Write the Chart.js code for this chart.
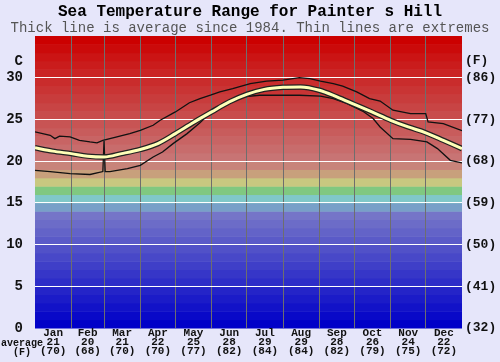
<!DOCTYPE html>
<html><head><meta charset="utf-8">
<script src="https://cdn.jsdelivr.net/npm/chart.js@4.4.0/dist/chart.umd.min.js"></script>
<style>html,body{margin:0;padding:0;background:#e6e6fa;}canvas{display:block;}</style>
</head><body>
<canvas id="c" width="500" height="362"></canvas>
<script>
const months = ['Jan','Feb','Mar','Apr','May','Jun','Jul','Aug','Sep','Oct','Nov','Dec'];
const monthStartDays = [0,31,59,90,120,151,181,212,243,273,304,334,365];
const monthAvgC = [21,20,21,22,25,28,29,29,28,26,24,22];
const monthAvgF = [70,68,70,70,77,82,84,84,82,79,75,72];

const avgDays = [0,15,31,45,59,74,90,105,120,135,151,166,181,196,212,227,243,258,273,288,304,319,334,349,365];
const avgTemp = [21.6,21.2,20.9,20.6,20.5,20.9,21.4,22.1,23.3,24.6,25.9,27.1,28.0,28.6,28.85,28.9,28.5,27.7,26.8,25.9,24.9,24.1,23.4,22.5,21.5];

const maxDays = [0,13,17,21,30,38,47,53,58,70,81,90,101,107,120,132,141,150,158,169,184,198,212,226,235,244,255,263,275,286,295,306,321,334,336,349,365];
const maxTemp = [23.5,23.1,22.7,23.0,22.9,22.5,22.3,22.2,22.5,22.9,23.3,23.7,24.3,24.9,25.9,27.0,27.5,27.9,28.3,28.7,29.3,29.6,29.7,30.0,29.9,29.6,29.3,29.0,28.3,27.5,27.2,26.1,25.7,25.7,24.7,24.5,23.65];

const minDays = [0,13,30,47,58,59,60,64,79,90,101,109,118,130,141,152,164,178,192,209,226,244,255,267,280,289,295,306,321,335,344,355,365];
const minTemp = [18.9,18.75,18.5,18.4,18.75,22.4,18.75,18.75,19.1,19.5,20.5,21.1,22.1,23.3,24.6,26.1,27.1,27.7,27.9,27.9,27.9,27.8,27.5,26.9,26.0,25.1,24.1,22.7,22.6,22.3,21.5,20.1,19.8];

const yTicksC = [0,5,10,15,20,25,30];
const yLabelPos = 32;

const bandColors = [
 '#0000c8','#0909c8','#1212c8','#1b1bc8','#2424c8','#2d2dc8','#3636c8','#3f3fc8',
 '#4848c8','#5151c8','#5a5ac8','#6363c8','#6c6cc8','#7575c8','#78a0c8','#80c8c8',
 '#80c880','#c8c880','#c8a07c','#c8847a','#c87474','#c86c6c','#c86464','#c85c5c',
 '#c85454','#c84c4c','#c84444','#c83c3c','#c93434','#c92c2c','#ca2424','#ca1c1c',
 '#cb1414','#cb0a0a','#cc0000'
];

const pts = (xs, ys) => xs.map((d, i) => ({x: d, y: ys[i]}));
const monthMid = months.map((m, i) => (monthStartDays[i] + monthStartDays[i+1]) / 2);
const innerStarts = monthStartDays.slice(1, 12);

const bgPlugin = {
  id: 'bands',
  beforeDraw(chart) {
    const {ctx, chartArea: a, scales: {y}} = chart;
    ctx.save();
    ctx.fillStyle = '#e6e6fa';
    ctx.fillRect(0, 0, chart.width, chart.height);
    bandColors.forEach((c, i) => {
      const top = y.getPixelForValue(i + 1);
      const bot = y.getPixelForValue(i);
      ctx.fillStyle = c;
      ctx.fillRect(a.left, top, a.right - a.left, bot - top + 0.5);
    });
    ctx.restore();
  },
  afterDraw(chart) {
    const {ctx} = chart;
    ctx.save();
    ctx.fillStyle = '#111';
    ctx.font = 'bold 10px "Liberation Mono"';
    ctx.textAlign = 'center';
    ctx.textBaseline = 'middle';
    ctx.fillText('average', 22, 343);
    ctx.fillText('(F)', 22, 352);
    ctx.restore();
  }
};

new Chart(document.getElementById('c'), {
  type: 'line',
  data: {
    datasets: [
      {data: pts(avgDays, avgTemp), borderColor: '#ffffb8', borderWidth: 3, pointRadius: 0, cubicInterpolationMode: 'monotone'},
      {data: pts(avgDays, avgTemp), borderColor: '#222', borderWidth: 5.5, pointRadius: 0, cubicInterpolationMode: 'monotone'},
      {data: pts(maxDays, maxTemp), borderColor: '#111', borderWidth: 1.3, pointRadius: 0, tension: 0},
      {data: pts(minDays, minTemp), borderColor: '#111', borderWidth: 1.3, pointRadius: 0, tension: 0}
    ]
  },
  options: {
    responsive: false,
    animation: false,
    layout: {padding: 0},
    plugins: {
      legend: {display: false},
      tooltip: {enabled: false},
      title: {display: true, text: 'Sea Temperature Range for Painter s Hill', color: '#000',
        font: {family: 'Liberation Mono', size: 16, weight: 'bold', lineHeight: 1.1}, padding: {top: 3, bottom: 0}},
      subtitle: {display: true, text: 'Thick line is average since 1984. Thin lines are extremes', color: '#555',
        font: {family: 'Liberation Mono', size: 14, weight: 'normal', lineHeight: 1.1}, padding: {top: 0, bottom: 0}}
    },
    scales: {
      x: {
        type: 'linear', min: 0, max: 365, position: 'bottom',
        afterBuildTicks(s) { s.ticks = [...innerStarts, ...monthMid].sort((a, b) => a - b).map(v => ({value: v})); },
        afterFit(s) { s.height = 34; },
        border: {display: false},
        grid: {drawTicks: false, lineWidth: 1, color: c => innerStarts.includes(c.tick && c.tick.value) ? '#6e6e6e' : 'rgba(0,0,0,0)'},
        ticks: {
          autoSkip: false, maxRotation: 0, padding: 1, color: '#111',
          font: {family: 'Liberation Mono', size: 11, weight: 'bold', lineHeight: 0.82},
          callback(v) { const i = monthMid.indexOf(v); return i < 0 ? '' : [months[i], String(monthAvgC[i]), '(' + monthAvgF[i] + ')']; }
        }
      },
      y: {
        type: 'linear', min: 0, max: 35, position: 'left',
        afterBuildTicks(s) { s.ticks = [...yTicksC, yLabelPos].map(v => ({value: v})); },
        afterFit(s) { s.width = 35; },
        border: {display: false},
        grid: {drawTicks: false, lineWidth: 1, color: c => (c.tick && c.tick.value > 0 && c.tick.value <= 30) ? '#ffffff' : 'rgba(0,0,0,0)'},
        ticks: {padding: 12, color: '#111', font: {family: 'Liberation Mono', size: 14, weight: 'bold'},
          callback(v) { return v === yLabelPos ? 'C' : String(v); }}
      },
      y2: {
        type: 'linear', min: 0, max: 35, position: 'right',
        afterBuildTicks(s) { s.ticks = [...yTicksC, yLabelPos].map(v => ({value: v})); },
        afterFit(s) { s.width = 38; },
        border: {display: false},
        grid: {display: false, drawTicks: false},
        ticks: {padding: 3, color: '#111', font: {family: 'Liberation Mono', size: 13, weight: 'bold'},
          callback(v) { return v === yLabelPos ? '(F)' : '(' + Math.round(v * 9 / 5 + 32) + ')'; }}
      }
    }
  },
  plugins: [bgPlugin]
});
</script>
</body></html>
